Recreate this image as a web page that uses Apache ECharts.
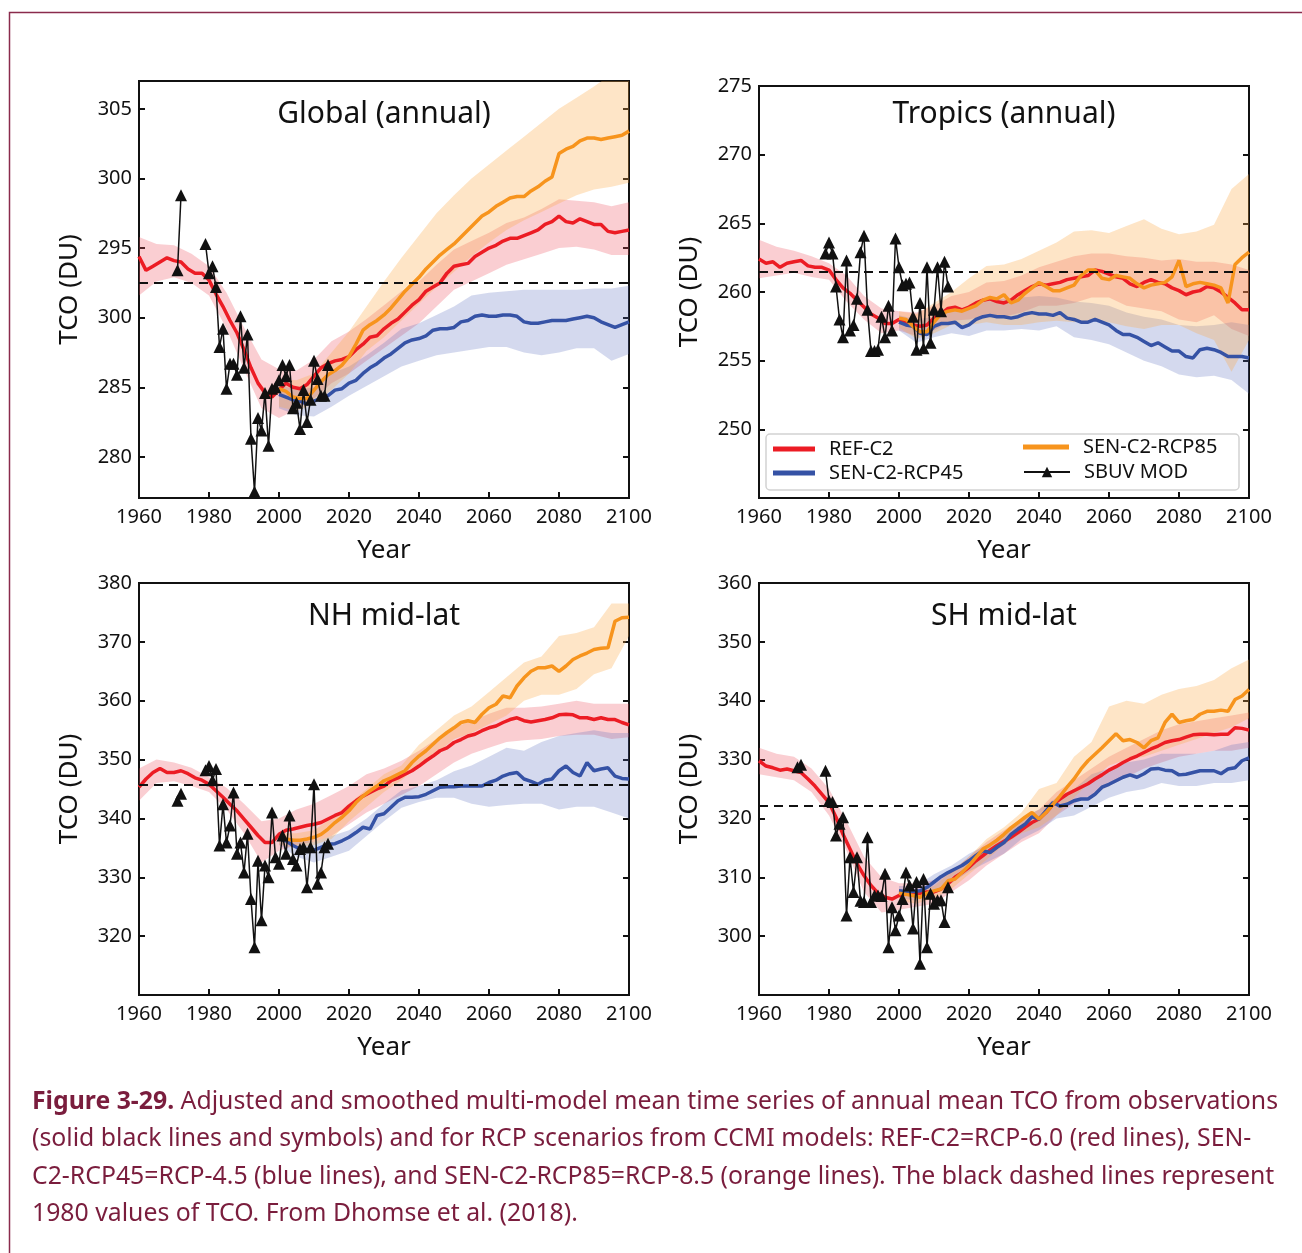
<!DOCTYPE html>
<html>
<head>
<meta charset="utf-8">
<script src="https://cdn.jsdelivr.net/npm/echarts@6.0.0/dist/echarts.min.js"></script>
<style>
  html, body { margin: 0; padding: 0; background: #fff; }
  #chart { width: 1302px; height: 1253px; }
</style>
</head>
<body>
<div id="chart"></div>
<script>
// years (x positions)
function span(a, b, s) { const r = []; for (let v = a; v <= b; v += s) r.push(v); return r }
const yearsRef = span(1960, 2100, 2)
const yearsScen = span(2000, 2100, 2)
const bandYearsRef = span(1960, 2100, 5)
const bandYearsScen = span(2000, 2100, 5)
const obsYears = [1971, 1972].concat(span(1979, 2014, 1))
const obsYearsTropics = span(1979, 2014, 1)

// ---- Global (annual)
const globalRef = [294.4, 293.4, 293.7, 294.0, 294.3, 294.1, 294.0, 293.5, 293.2, 293.2,
  292.7, 291.7, 290.8, 289.8, 288.9, 287.7, 286.4, 285.3, 284.6, 284.3,
  284.8, 285.3, 285.0, 284.9, 285.2, 285.8, 286.4, 286.7, 286.9, 287.0,
  287.2, 287.7, 288.1, 288.6, 288.7, 289.2, 289.6, 289.9, 290.4, 290.9,
  291.3, 291.9, 292.2, 292.5, 293.2, 293.7, 293.8, 293.9, 294.4, 294.7,
  295.0, 295.2, 295.5, 295.7, 295.7, 295.9, 296.1, 296.3, 296.7, 296.9,
  297.3, 296.9, 296.8, 297.1, 296.9, 296.7, 296.7, 296.2, 296.1, 296.2, 296.3]
const globalRcp45 = [284.5, 284.3, 284.1, 284.0, 283.8, 284.0, 284.2, 284.4, 284.8, 284.9,
  285.3, 285.5, 286.0, 286.4, 286.7, 287.1, 287.4, 287.8, 288.2, 288.4,
  288.5, 288.7, 289.1, 289.2, 289.2, 289.3, 289.7, 289.8, 290.1, 290.2,
  290.1, 290.1, 290.2, 290.2, 290.1, 289.7, 289.6, 289.6, 289.7, 289.8,
  289.8, 289.8, 289.9, 290.0, 290.1, 290.0, 289.7, 289.5, 289.3, 289.5, 289.7]
const globalRcp85 = [284.9, 284.7, 284.3, 284.2, 284.2, 284.8, 285.4, 285.9, 286.2, 286.6,
  287.2, 288.1, 289.1, 289.5, 289.8, 290.2, 290.7, 291.3, 291.9, 292.4,
  292.9, 293.5, 294.0, 294.5, 294.9, 295.3, 295.8, 296.3, 296.8, 297.3,
  297.6, 298.0, 298.3, 298.6, 298.7, 298.7, 299.1, 299.4, 299.8, 300.1,
  301.8, 302.1, 302.3, 302.7, 302.9, 302.9, 302.8, 302.9, 303.0, 303.1, 303.4]
const globalRefLow = [291.6, 292.6, 292.9, 292.5, 291.6, 289.2, 286.3, 283.5, 282.8, 283.4, 284.2, 285.3, 286.0, 286.9, 287.8,
  288.7, 289.6, 290.8, 292.0, 292.6, 293.2, 293.8, 294.2, 294.6, 295.0, 295.1, 294.9, 294.5, 294.5]
const globalRefHigh = [295.8, 295.3, 295.2, 294.6, 293.7, 291.8, 289.3, 287.0, 286.3, 286.2, 287.0, 288.3, 289.0, 289.9, 290.9,
  291.9, 292.6, 293.8, 294.9, 295.5, 296.1, 296.8, 297.2, 297.8, 298.5, 298.4, 298.3, 298.0, 298.3]
const globalRcp45Low = [283.5, 283.0, 282.9, 283.6, 284.4, 285.1, 285.8, 286.5, 286.9, 287.3, 287.5,
  287.7, 287.9, 287.9, 287.5, 287.3, 287.5, 287.8, 287.8, 286.9, 287.4]
const globalRcp45High = [285.2, 284.8, 285.0, 286.0, 286.5, 287.3, 288.2, 289.2, 289.6, 290.2, 290.8,
  291.6, 291.8, 291.9, 292.0, 292.0, 292.0, 292.0, 292.1, 292.1, 292.3]
const globalRcp85Low = [283.6, 283.3, 283.8, 284.8, 286.0, 287.6, 288.6, 289.8, 291.0, 292.2, 293.3,
  294.4, 295.4, 296.3, 297.0, 297.6, 298.2, 298.8, 299.2, 299.4, 299.7]
const globalRcp85High = [285.6, 285.5, 286.0, 287.5, 289.0, 290.8, 292.6, 294.3, 295.9, 297.5, 298.8,
  300.0, 301.0, 302.0, 303.0, 304.0, 305.0, 305.8, 306.6, 307.5, 308.0]
const globalObs = [293.4, 298.8,
  295.3, 293.2, 293.7, 292.2, 287.9, 289.2, 284.9, 286.7, 286.7, 285.9, 290.1, 286.4,
  288.8, 281.3, 277.5, 282.8, 281.9, 284.6, 280.8, 284.9, 285.0, 285.5, 286.6, 285.8,
  286.6, 283.5, 283.9, 282.0, 284.8, 282.5, 284.1, 286.9, 285.6, 284.4, 284.4, 286.6]
const globalTicks = [280, 285, 290, 295, 300, 305]
const globalTickLabels = ['280', '285', '300', '295', '300', '305']

// ---- Tropics (annual)
const tropRef = [262.4, 262.1, 262.2, 261.8, 262.1, 262.2, 262.3, 261.9, 261.8, 261.8,
  261.6, 260.9, 260.3, 259.9, 259.4, 258.9, 258.4, 258.1, 257.7, 257.7,
  258.0, 257.8, 257.6, 257.5, 257.6, 258.1, 258.4, 258.8, 258.9, 258.7,
  258.9, 259.2, 259.4, 259.5, 259.3, 259.2, 259.4, 259.8, 260.1, 260.4,
  260.6, 260.5, 260.6, 260.7, 260.9, 261.0, 261.1, 261.2, 261.6, 261.5,
  261.3, 261.1, 261.0, 260.6, 260.4, 260.7, 260.9, 260.7, 260.6, 260.3,
  260.1, 259.8, 260.0, 260.1, 260.4, 260.3, 260.0, 259.6, 259.2, 258.7, 258.7]
const tropRcp45 = [257.8, 257.6, 257.5, 257.0, 256.9, 257.5, 257.7, 257.7, 257.8, 257.4,
  257.6, 258.0, 258.2, 258.3, 258.2, 258.2, 258.1, 258.2, 258.4, 258.5,
  258.4, 258.4, 258.3, 258.5, 258.1, 258.0, 257.8, 257.8, 258.0, 257.8,
  257.6, 257.2, 256.9, 256.9, 256.7, 256.4, 256.1, 256.3, 256.0, 255.7,
  255.7, 255.3, 255.2, 255.8, 255.9, 255.8, 255.6, 255.3, 255.3, 255.3, 255.2]
const tropRcp85 = [258.1, 258.0, 257.5, 257.1, 257.1, 257.8, 258.4, 258.6, 258.7, 258.6,
  258.8, 259.0, 259.4, 259.6, 259.5, 259.8, 259.2, 259.4, 259.9, 260.3,
  260.7, 260.4, 260.1, 260.1, 260.3, 260.5, 261.2, 261.6, 261.6, 261.0,
  260.9, 261.2, 261.1, 261.0, 260.6, 260.3, 260.5, 260.6, 260.7, 261.1,
  262.3, 260.4, 260.6, 260.7, 260.6, 260.5, 260.3, 259.2, 262.0, 262.5, 262.9]
const tropRefLow = [261.0, 261.2, 261.4, 261.1, 260.9, 259.3, 258.0, 257.0, 257.2, 256.8, 257.2, 257.9, 258.0, 258.3, 258.2,
  258.5, 259.0, 259.0, 259.2, 259.6, 259.6, 259.0, 258.8, 258.6, 258.0, 257.8, 258.3, 257.3, 256.8]
const tropRefHigh = [263.8, 263.3, 263.0, 262.6, 262.1, 261.2, 259.7, 258.8, 258.6, 258.5, 259.0, 259.7, 260.0, 260.7, 260.8,
  261.2, 261.8, 262.2, 262.6, 262.8, 262.8, 262.6, 262.5, 262.3, 262.4, 262.2, 262.2, 262.0, 261.6]
const tropRcp45Low = [257.2, 256.3, 256.7, 257.0, 256.8, 257.2, 257.2, 257.3, 257.2, 257.5, 256.7,
  256.5, 256.2, 255.6, 255.0, 254.6, 254.0, 253.8, 253.9, 253.6, 252.6]
const tropRcp45High = [258.3, 258.0, 258.2, 258.6, 258.8, 259.4, 259.5, 259.6, 259.7, 259.6, 259.3,
  259.2, 259.0, 258.5, 258.2, 258.0, 257.6, 257.5, 257.6, 257.8, 257.6]
const tropRcp85Low = [257.4, 256.6, 257.0, 257.6, 257.6, 257.8, 257.6, 257.6, 257.8, 257.9, 257.8,
  257.9, 257.8, 257.5, 257.3, 257.6, 257.6, 257.0, 256.5, 254.2, 256.5]
const tropRcp85High = [258.6, 258.4, 259.2, 260.0, 261.0, 261.9, 262.0, 262.4, 263.0, 263.6, 264.4,
  264.5, 264.3, 264.8, 265.3, 264.6, 264.2, 264.4, 264.9, 267.5, 268.6]
const tropObs = [262.8, 263.6, 262.8, 260.4, 258.0, 256.7, 262.3, 257.2, 257.6, 259.5, 262.9, 264.1,
  258.7, 255.7, 255.7, 255.8, 258.2, 256.7, 259.0, 257.2, 263.9, 261.8, 260.5, 260.6,
  260.7, 258.2, 255.8, 259.2, 255.9, 261.8, 256.3, 258.7, 261.8, 258.6, 262.2, 260.4]
const tropTicks = [250, 255, 260, 265, 270, 275]
const tropTickLabels = ['250', '255', '260', '265', '270', '275']

// ---- NH mid-lat
const nhRef = [345.3, 346.7, 347.8, 348.5, 347.8, 347.8, 348.1, 347.6, 346.9, 346.5,
  345.8, 344.7, 343.6, 342.4, 341.3, 339.9, 338.5, 337.1, 335.9, 335.9,
  337.3, 338.0, 338.2, 338.5, 338.8, 339.0, 339.3, 339.9, 340.5, 341.0,
  342.1, 343.0, 343.8, 344.4, 345.0, 345.5, 346.4, 346.9, 347.5, 348.1,
  348.9, 349.8, 350.6, 351.5, 352.0, 352.9, 353.4, 354.0, 354.3, 354.9,
  355.4, 355.7, 356.3, 356.8, 357.1, 356.6, 356.4, 356.6, 356.8, 357.1,
  357.6, 357.7, 357.6, 357.1, 357.1, 356.8, 357.1, 356.8, 356.8, 356.3, 355.9]
const nhRcp45 = [336.5, 336.2, 335.4, 334.8, 334.6, 334.6, 335.1, 335.6, 335.7, 336.2,
  336.8, 337.6, 338.5, 338.2, 340.5, 340.8, 341.9, 343.0, 343.6, 343.6,
  343.7, 344.1, 344.7, 345.3, 345.4, 345.4, 345.5, 345.5, 345.5, 345.5,
  346.1, 346.5, 347.2, 347.6, 347.8, 346.7, 346.3, 345.8, 346.5, 346.7,
  348.1, 348.9, 347.8, 347.2, 349.5, 348.1, 348.4, 348.6, 347.2, 346.8, 346.7]
const nhRcp85 = [336.8, 336.5, 336.3, 336.3, 336.5, 336.8, 337.3, 338.2, 339.3, 340.2,
  341.3, 342.7, 343.8, 344.7, 345.5, 346.4, 346.9, 347.5, 348.1, 349.5,
  350.6, 351.5, 352.6, 353.7, 354.6, 355.4, 356.3, 356.6, 356.3, 357.7,
  358.8, 359.4, 360.8, 360.5, 362.5, 363.9, 365.0, 365.6, 365.6, 365.9,
  365.0, 365.9, 367.0, 367.6, 368.1, 368.7, 368.9, 369.0, 373.5, 374.1, 374.2]
const nhRefLow = [343.0, 346.0, 346.3, 345.5, 344.5, 341.5, 337.5, 332.5, 334.5, 335.5, 336.0, 337.0, 339.0, 341.0, 342.5,
  344.0, 345.5, 347.5, 349.5, 351.0, 352.0, 353.0, 353.3, 353.5, 354.0, 354.2, 354.2, 353.5, 353.8]
const nhRefHigh = [348.5, 350.0, 349.5, 348.6, 347.0, 345.2, 342.5, 339.5, 340.0, 341.5, 342.5, 344.0, 345.5, 347.5, 348.5,
  349.8, 351.5, 353.5, 355.5, 356.5, 357.8, 358.8, 358.8, 359.0, 359.5, 360.0, 359.5, 359.5, 359.5]
const nhRcp45Low = [335.5, 333.5, 332.5, 333.5, 334.5, 337.0, 339.5, 341.8, 342.8, 343.5, 343.5,
  342.5, 342.0, 342.3, 342.5, 342.5, 341.5, 342.0, 342.0, 341.0, 340.0]
const nhRcp45High = [336.8, 336.5, 336.0, 337.0, 338.0, 340.0, 342.5, 344.8, 345.5, 346.5, 348.0,
  349.0, 350.5, 352.0, 351.5, 353.0, 354.0, 354.5, 355.0, 354.5, 354.5]
const nhRcp85Low = [335.5, 335.0, 335.5, 336.5, 339.5, 342.0, 344.5, 346.5, 349.0, 351.0, 353.5,
  354.5, 356.0, 357.5, 360.0, 361.0, 361.0, 362.0, 364.5, 365.5, 371.0]
const nhRcp85High = [337.5, 337.5, 338.0, 340.0, 342.5, 345.0, 347.5, 349.0, 352.5, 355.0, 357.5,
  359.0, 361.5, 364.0, 366.5, 367.5, 371.0, 371.5, 372.5, 376.5, 376.5]
const nhObs = [343.0, 344.2,
  348.2, 348.9, 346.5, 348.4, 335.4, 342.4, 335.9, 338.8, 344.4, 334.0, 335.9, 330.8,
  337.4, 326.3, 318.1, 332.8, 322.7, 332.0, 330.0, 341.0, 333.4, 332.3, 337.1, 334.0,
  340.5, 333.1, 332.0, 334.8, 335.1, 328.3, 335.1, 345.8, 328.9, 330.8, 335.1, 335.7]
const nhTicks = [320, 330, 340, 350, 360, 370, 380]
const nhTickLabels = ['320', '330', '340', '350', '360', '370', '380']

// ---- SH mid-lat
const shRef = [329.8, 328.9, 328.6, 328.2, 328.4, 328.1, 327.8, 326.7, 325.5, 324.1,
  322.7, 320.2, 317.3, 314.8, 312.3, 310.3, 308.6, 307.3, 306.6, 306.3,
  306.9, 307.2, 307.3, 307.3, 307.5, 307.5, 308.0, 308.9, 310.0, 310.8,
  311.7, 312.8, 313.7, 314.6, 315.4, 316.1, 316.8, 317.6, 318.5, 319.3,
  319.9, 321.0, 322.4, 323.3, 324.1, 324.7, 325.3, 325.9, 326.7, 327.4,
  328.2, 328.8, 329.5, 330.1, 330.6, 331.2, 331.8, 332.3, 332.9, 333.2,
  333.4, 333.8, 334.2, 334.3, 334.3, 334.2, 334.3, 334.3, 335.4, 335.3, 335.0]
const shRcp45 = [307.7, 307.6, 307.6, 307.7, 308.3, 309.2, 310.1, 310.8, 311.4, 312.0,
  312.8, 313.7, 314.5, 314.2, 315.1, 315.9, 317.3, 318.2, 319.0, 320.3,
  319.9, 321.3, 322.7, 322.1, 322.4, 323.0, 323.3, 323.3, 324.1, 325.3,
  325.8, 326.4, 327.0, 327.4, 327.0, 327.6, 328.4, 328.5, 328.2, 328.1,
  327.4, 327.5, 327.8, 328.1, 328.1, 328.1, 327.6, 328.4, 328.6, 329.8, 330.3]
const shRcp85 = [307.3, 307.1, 306.9, 306.6, 307.3, 307.7, 308.0, 309.4, 309.7, 310.8,
  312.0, 313.4, 314.8, 315.5, 316.3, 317.3, 318.4, 319.3, 320.2, 321.0,
  319.9, 321.0, 322.4, 323.8, 325.3, 326.7, 328.4, 329.8, 330.9, 332.0,
  333.2, 334.4, 333.2, 333.4, 332.9, 332.0, 333.2, 333.7, 336.3, 337.7,
  336.3, 336.6, 336.8, 337.7, 338.2, 338.2, 338.4, 338.2, 340.2, 340.8, 341.9]
const shRefLow = [327.5, 327.0, 326.5, 324.5, 320.5, 314.5, 307.5, 304.0, 304.5, 305.0, 305.5, 307.5, 309.5, 312.0, 314.0,
  316.0, 317.5, 320.5, 322.5, 324.0, 325.5, 327.0, 328.5, 329.5, 330.5, 331.0, 331.5, 331.5, 332.0]
const shRefHigh = [332.0, 331.0, 330.5, 328.5, 325.0, 319.5, 313.5, 310.0, 309.0, 309.0, 309.5, 311.0, 313.5, 316.0, 318.0,
  320.0, 321.5, 324.5, 326.5, 328.5, 330.5, 332.0, 333.5, 335.0, 336.0, 336.5, 337.0, 337.5, 338.0]
const shRcp45Low = [306.5, 306.0, 307.5, 309.0, 311.0, 312.5, 314.0, 316.5, 318.0, 320.0, 320.5,
  322.0, 323.5, 324.5, 325.0, 326.0, 325.5, 325.5, 326.0, 326.0, 326.5]
const shRcp45High = [308.5, 308.5, 310.5, 312.0, 314.0, 315.5, 317.5, 320.0, 321.5, 323.5, 325.0,
  327.5, 328.5, 329.5, 330.0, 331.0, 331.0, 331.0, 331.5, 332.5, 333.0]
const shRcp85Low = [306.0, 305.5, 306.5, 308.0, 310.5, 313.0, 315.5, 317.5, 318.5, 320.5, 323.5,
  326.5, 329.0, 330.0, 330.5, 331.5, 332.5, 333.5, 334.5, 335.5, 337.0]
const shRcp85High = [308.0, 307.5, 308.5, 311.0, 313.5, 316.5, 318.5, 321.0, 325.0, 326.0, 330.5,
  333.0, 339.0, 340.0, 339.5, 341.0, 342.0, 342.5, 343.5, 345.5, 347.0]
const shObs = [328.7, 329.1,
  328.1, 323.0, 322.8, 317.1, 319.1, 320.2, 303.5, 313.4, 307.5, 313.4, 306.0, 305.8,
  316.8, 305.8, 306.9, 306.9, 306.8, 310.6, 298.1, 304.9, 301.0, 303.5, 306.3, 310.8,
  308.6, 301.3, 309.2, 295.3, 309.7, 298.1, 307.2, 305.5, 306.1, 306.1, 302.4, 308.3]
const shTicks = [300, 310, 320, 330, 340, 350, 360]
const shTickLabels = ['300', '310', '320', '330', '340', '350', '360']

// 1980 reference level (dashed)
const level1980 = { global: 292.5, tropics: 261.5, nh: 345.8, sh: 322.2 }

const FONT = '"Noto Sans", sans-serif'
const INK = '#111'
const COL = { ref: '#ec1c24', rcp45: '#3552a5', rcp85: '#f7941d' }
const BAND = { ref: 'rgba(236,80,95,0.28)', rcp45: 'rgba(90,110,190,0.26)', rcp85: 'rgba(252,170,70,0.30)' }

const panels = [
  { title: 'Global (annual)', box: [139, 81, 490, 417], y: [277.05, 307], ticks: globalTicks, tickLabels: globalTickLabels,
    level: level1980.global, ref: globalRef, rcp45: globalRcp45, rcp85: globalRcp85,
    refBand: [globalRefLow, globalRefHigh], rcp45Band: [globalRcp45Low, globalRcp45High], rcp85Band: [globalRcp85Low, globalRcp85High],
    obsYears: obsYears, obs: globalObs },
  { title: 'Tropics (annual)', box: [759, 86, 490, 412], y: [245, 275], ticks: tropTicks, tickLabels: tropTickLabels,
    level: level1980.tropics, ref: tropRef, rcp45: tropRcp45, rcp85: tropRcp85,
    refBand: [tropRefLow, tropRefHigh], rcp45Band: [tropRcp45Low, tropRcp45High], rcp85Band: [tropRcp85Low, tropRcp85High],
    obsYears: obsYearsTropics, obs: tropObs },
  { title: 'NH mid-lat', box: [139, 583, 490, 412], y: [310, 380], ticks: nhTicks, tickLabels: nhTickLabels,
    level: level1980.nh, ref: nhRef, rcp45: nhRcp45, rcp85: nhRcp85,
    refBand: [nhRefLow, nhRefHigh], rcp45Band: [nhRcp45Low, nhRcp45High], rcp85Band: [nhRcp85Low, nhRcp85High],
    obsYears: obsYears, obs: nhObs },
  { title: 'SH mid-lat', box: [759, 583, 490, 412], y: [290, 360], ticks: shTicks, tickLabels: shTickLabels,
    level: level1980.sh, ref: shRef, rcp45: shRcp45, rcp85: shRcp85,
    refBand: [shRefLow, shRefHigh], rcp45Band: [shRcp45Low, shRcp45High], rcp85Band: [shRcp85Low, shRcp85High],
    obsYears: obsYears, obs: shObs },
]

function pairs(xs, ys) { return xs.map((x, k) => [x, ys[k]]) }

// observations: connect consecutive years only
function obsData(xs, ys) {
  const out = []
  xs.forEach((x, k) => {
    if (k > 0 && x - xs[k - 1] > 1) out.push([xs[k - 1] + 1, '-'])
    out.push([x, ys[k]])
  })
  return out
}

// shaded range drawn as one polygon through the axes
function bandSeries(i, years, low, high, fill) {
  return {
    type: 'custom', xAxisIndex: i, yAxisIndex: 2 * i, silent: true, clip: true, z: 1,
    data: years.map((y, k) => [y, low[k], high[k]]),
    encode: { x: 0, y: [1, 2] },
    renderItem: function (params, api) {
      if (params.dataIndexInside !== 0) return null
      const pts = []
      for (let k = 0; k < years.length; k++) pts.push(api.coord([years[k], high[k]]))
      for (let k = years.length - 1; k >= 0; k--) pts.push(api.coord([years[k], low[k]]))
      return { type: 'polygon', shape: { points: pts }, style: { fill: fill } }
    },
  }
}

function lineSeries(i, name, years, vals, color, z) {
  return {
    type: 'line', name: name, xAxisIndex: i, yAxisIndex: 2 * i, z: z, silent: true,
    data: pairs(years, vals), symbol: 'none',
    lineStyle: { width: 3.5, color: color }, itemStyle: { color: color },
  }
}

const tickStyle = { inside: true, length: 6, lineStyle: { width: 2, color: INK } }
const grids = [], xAxes = [], yAxes = [], series = [], texts = []

panels.forEach((p, i) => {
  const [left, top, width, height] = p.box
  grids.push({ left: left, top: top, width: width, height: height, show: true, borderColor: INK, borderWidth: 2 })
  xAxes.push({
    type: 'value', gridIndex: i, min: 1960, max: 2100, interval: 20,
    axisLine: { show: false }, splitLine: { show: false }, axisTick: tickStyle,
    axisLabel: { fontSize: 20, fontFamily: FONT, color: INK, margin: 9, showMinLabel: true, showMaxLabel: true,
      formatter: v => String(v) },
    name: 'Year', nameLocation: 'middle', nameGap: 40,
    nameTextStyle: { fontSize: 26, fontFamily: FONT, color: INK },
  })
  yAxes.push({
    type: 'value', gridIndex: i, min: p.y[0], max: p.y[1],
    axisLine: { show: false }, splitLine: { show: false },
    axisTick: Object.assign({ customValues: p.ticks }, tickStyle),
    axisLabel: {
      customValues: p.ticks, fontSize: 20, fontFamily: FONT, color: INK, margin: 7,
      formatter: v => p.tickLabels[p.ticks.indexOf(Math.round(v))] || '',
    },
    name: 'TCO (DU)', nameLocation: 'middle', nameGap: 56, nameRotate: 90,
    nameTextStyle: { fontSize: 26, fontFamily: FONT, color: INK },
  })
  yAxes.push({
    type: 'value', gridIndex: i, position: 'right', min: p.y[0], max: p.y[1],
    axisLine: { show: false }, splitLine: { show: false },
    axisTick: Object.assign({ customValues: p.ticks }, tickStyle), axisLabel: { show: false },
  })

  series.push(bandSeries(i, bandYearsRef, p.refBand[0], p.refBand[1], BAND.ref))
  series.push(bandSeries(i, bandYearsScen, p.rcp45Band[0], p.rcp45Band[1], BAND.rcp45))
  series.push(bandSeries(i, bandYearsScen, p.rcp85Band[0], p.rcp85Band[1], BAND.rcp85))
  series.push(lineSeries(i, 'REF-C2', yearsRef, p.ref, COL.ref, 3))
  series.push(lineSeries(i, 'SEN-C2-RCP45', yearsScen, p.rcp45, COL.rcp45, 3))
  const r85 = lineSeries(i, 'SEN-C2-RCP85', yearsScen, p.rcp85, COL.rcp85, 4)
  r85.markLine = {
    silent: true, symbol: ['none', 'none'], label: { show: false },
    lineStyle: { type: [9, 6], color: INK, width: 2 },
    data: [{ yAxis: p.level }],
  }
  series.push(r85)
  series.push({
    type: 'line', name: 'SBUV MOD', xAxisIndex: i, yAxisIndex: 2 * i, z: 6, silent: true,
    data: obsData(p.obsYears, p.obs), symbol: 'triangle', symbolSize: 12, connectNulls: false,
    lineStyle: { width: 1.5, color: INK }, itemStyle: { color: INK },
  })

  texts.push({
    type: 'text', x: left + width / 2, y: top + (i === 1 ? 28 : 33), z: 20,
    style: { text: p.title, font: '30px ' + FONT, fill: INK, align: 'center', verticalAlign: 'middle',
      textAlign: 'center', textVerticalAlign: 'middle' },
  })
})

// caption lines
const captionLines = [
  '{b|Figure 3-29.} Adjusted and smoothed multi-model mean time series of annual mean TCO from observations',
  '(solid black lines and symbols) and for RCP scenarios from CCMI models: REF-C2=RCP-6.0 (red lines), SEN-',
  'C2-RCP45=RCP-4.5 (blue lines), and SEN-C2-RCP85=RCP-8.5 (orange lines). The black dashed lines represent',
  '1980 values of TCO. From Dhomse et al. (2018).',
]
const CAP = '#7a1d3d'
const CAP_SIZE = 24.8
captionLines.forEach((t, k) => {
  texts.push({
    type: 'text', x: 32, y: 1102 + k * 37.4, z: 20,
    style: {
      text: t, font: CAP_SIZE + 'px ' + FONT, fill: CAP, verticalAlign: 'middle', textVerticalAlign: 'middle',
      rich: { b: { fontWeight: 'bold', fontSize: CAP_SIZE, fontFamily: FONT, fill: CAP, color: CAP } },
    },
  })
})

const legendBase = {
  orient: 'vertical', itemGap: 2, selectedMode: false, z: 12,
  textStyle: { fontSize: 20, fontFamily: FONT, color: INK, lineHeight: 22, padding: [0, 0, 0, 9] },
}
const option = {
  animation: false,
  backgroundColor: '#fff',
  grid: grids, xAxis: xAxes, yAxis: yAxes, series: series,
  legend: [
    Object.assign({ left: 768, top: 433, itemWidth: 42, itemHeight: 5, icon: 'rect',
      data: ['REF-C2', 'SEN-C2-RCP45'] }, legendBase),
    Object.assign({ left: 1018, top: 431, itemWidth: 46, itemHeight: 5, icon: 'rect',
      data: ['SEN-C2-RCP85'] }, legendBase),
    Object.assign({ left: 1018, top: 456, itemWidth: 46, itemHeight: 13,
      data: ['SBUV MOD'] }, legendBase),
  ],
  graphic: [
    { type: 'rect', left: 7, top: 10, z: 0, silent: true,
      shape: { x: 0, y: 0, width: 1330, height: 1300 }, style: { fill: 'none', stroke: '#8a2b4c', lineWidth: 1.5 } },
    { type: 'rect', x: 766, y: 434, z: 10, silent: true,
      shape: { x: 0, y: 0, width: 473, height: 56, r: 4 }, style: { fill: 'rgba(255,255,255,0.85)', stroke: '#d2d2d2', lineWidth: 1.5 } },
  ].concat(texts),
}

echarts.init(document.getElementById('chart')).setOption(option)
</script>
</body>
</html>
